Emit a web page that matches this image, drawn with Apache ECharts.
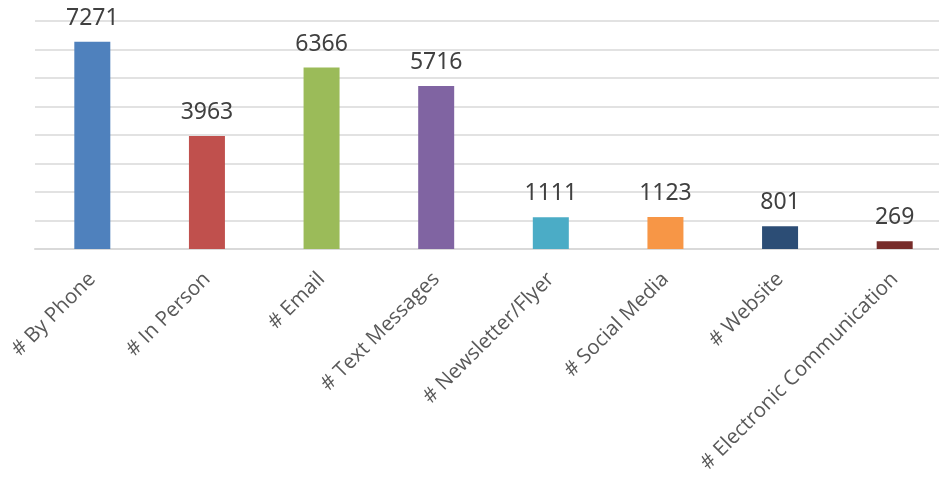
<!DOCTYPE html>
<html><head><meta charset="utf-8">
<script src="https://cdn.jsdelivr.net/npm/echarts@6/dist/echarts.min.js"></script>
<style>html,body{margin:0;padding:0;background:#fff;overflow:hidden;width:939px;height:480px}#c{width:952px;height:480px}</style>
</head><body><div id="c"></div>
<script>
const categories = ['# By Phone','# In Person','# Email','# Text Messages','# Newsletter/Flyer','# Social Media','# Website','# Electronic Communication'];
const values = [7271, 3963, 6366, 5716, 1111, 1123, 801, 269];
const colors = ['#4F81BD','#C0504D','#9BBB59','#8064A2','#4BACC6','#F79646','#2C4D75','#772C2A'];
const chart = echarts.init(document.getElementById('c'), null, {renderer:'canvas'});
chart.setOption({
  animation:false,
  grid:{left:35,right:0,top:21,height:228},
  xAxis:{type:'category',data:categories,
    axisLine:{lineStyle:{color:'#d9d9d9',width:2}},
    axisTick:{show:false},
    axisLabel:{rotate:45,interval:0,margin:27,fontSize:20.5,color:'#595959',fontFamily:'Open Sans'}},
  yAxis:{type:'value',min:0,max:8000,interval:1000,
    axisLabel:{show:false},axisLine:{show:false},axisTick:{show:false},
    splitLine:{lineStyle:{color:'#d9d9d9',width:1.5}}},
  series:[{type:'bar',barWidth:36,
    data:values.map((v,i)=>({value:v,itemStyle:{color:colors[i]}})),
    label:{show:true,position:'top',distance:12,fontSize:23,color:'#404040',fontFamily:'Noto Sans'}}]
});
</script></body></html>
